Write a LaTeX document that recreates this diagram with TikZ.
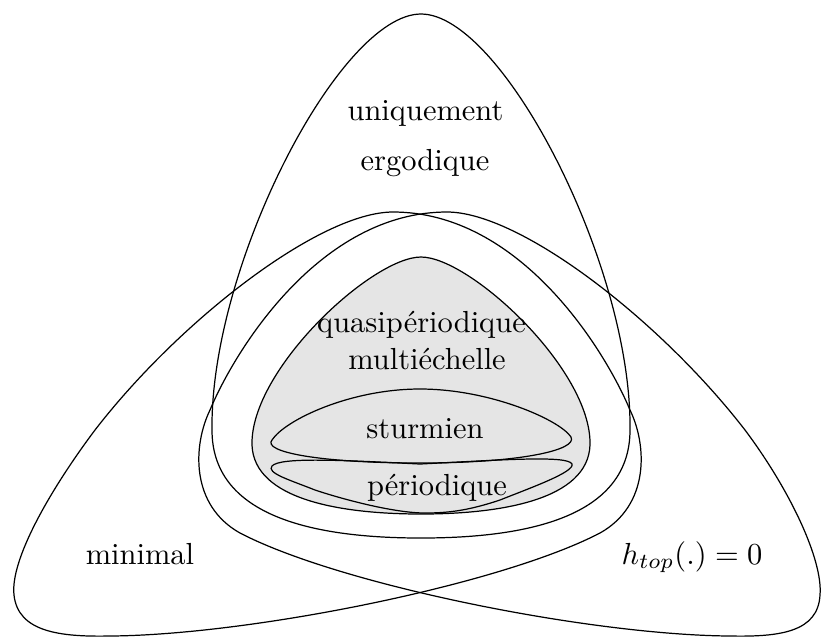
\documentclass[tikz,border=0pt]{standalone}
\begin{document}
\begin{tikzpicture}[x=0.328pt,y=-0.328pt,
  outline/.style={draw=black, line width=0.4pt},
  lbl/.style={anchor=base, inner sep=0pt}]
\useasboundingbox (0,0) rectangle (822,637);
% gray region (quasiperiodique multiechelle)
\path[fill=gray!20, outline]
  (421,257) .. controls (470,257) and (592,370) .. (590,445)
  .. controls (588,500) and (500,514) .. (421,514)
  .. controls (342,514) and (254,500) .. (252,445)
  .. controls (250,370) and (372,257) .. cycle;
% uniquement ergodique
\draw[outline]
  (421,14) .. controls (502,14) and (632,265) .. (630,430)
  .. controls (630,515) and (532,538) .. (421,538)
  .. controls (310,538) and (212,515) .. (212,430)
  .. controls (210,265) and (340,14) .. cycle;
% minimal
\draw[outline]
  (393,212) .. controls (320,212) and (180,320) .. (95,430)
  .. controls (50,490) and (10,560) .. (14,595)
  .. controls (18,632) and (60,637) .. (110,636)
  .. controls (250,635) and (500,585) .. (600,533)
  .. controls (650,505) and (647,445) .. (630,410)
  .. controls (605,350) and (520,212) .. cycle;
% h_top = 0
\draw[outline]
  (447,212) .. controls (520,212) and (660,320) .. (745,430)
  .. controls (790,490) and (823,560) .. (820,595)
  .. controls (818,632) and (780,637) .. (730,636)
  .. controls (590,635) and (340,585) .. (240,533)
  .. controls (190,505) and (193,445) .. (210,410)
  .. controls (235,350) and (320,212) .. cycle;
% sturmien
\draw[outline]
  (272,440) .. controls (285,420) and (350,389) .. (420,389)
  .. controls (490,389) and (560,420) .. (571,437)
  .. controls (578,450) and (520,463) .. (420,463)
  .. controls (320,463) and (262,452) .. cycle;
% periodique
\draw[outline]
  (272,466) .. controls (280,457) and (340,460) .. (420,464)
  .. controls (500,460) and (568,455) .. (572,464)
  .. controls (575,472) and (530,488) .. (500,500)
  .. controls (470,510) and (450,513) .. (425,513)
  .. controls (395,513) and (345,500) .. (315,490)
  .. controls (290,480) and (266,473) .. cycle;
% labels
\node[lbl] (ue1) at (425.5,120) {uniquement};
\node[lbl] (ue2) at (425,170) {ergodique};
\node[lbl] (qp1) at (421.5,332) {quasipériodique};
\node[lbl] (qp2) at (427,369) {multiéchelle};
\node[lbl] (st) at (425,438) {sturmien};
\node[lbl] (pe) at (437,495) {périodique};
\node[lbl] (mi) at (140,564) {minimal};
\node[lbl] (ht) at (692,564) {$h_{top}(.) = 0$};
\end{tikzpicture}
\end{document}
